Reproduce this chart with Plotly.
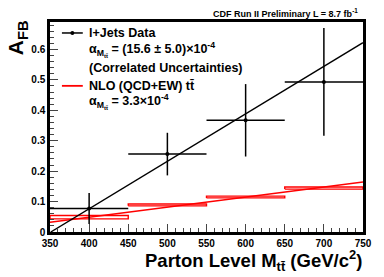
import plotly.graph_objects as go

# Data
bin_lo = [350, 450, 550, 650]
bin_hi = [450, 550, 650, 750]
data_x = [400, 500, 600, 700]
data_y = [0.077, 0.256, 0.367, 0.493]
data_err = [0.051, 0.070, 0.119, 0.177]
data_xerr = [50, 50, 50, 50]

nlo_lo = [0.043, 0.086, 0.112, 0.141]
nlo_hi = [0.054, 0.092, 0.118, 0.148]

fit_slope = 15.6e-4
fit_x0 = 351.0
nlo_slope = 3.3e-4
nlo_at350 = 0.032

xticks = [350, 400, 450, 500, 550, 600, 650, 700, 750]
yticks = [0, 0.1, 0.2, 0.3, 0.4, 0.5, 0.6]
ytick_text = ["0", "0.1", "0.2", "0.3", "0.4", "0.5", "0.6"]

FONT = "Liberation Sans, Arial, sans-serif"
RED = "#ff0000"

fig = go.Figure()

# NLO bands as boxes
for lo, hi, a, b in zip(bin_lo, bin_hi, nlo_lo, nlo_hi):
    fig.add_trace(go.Scatter(x=[lo, hi, hi, lo, lo], y=[a, a, b, b, a], mode="lines",
                             line=dict(color=RED, width=1.4), hoverinfo="skip", showlegend=False))

# NLO line
fig.add_trace(go.Scatter(x=[350, 750], y=[nlo_at350, nlo_at350 + nlo_slope * 400], mode="lines",
                         line=dict(color=RED, width=1.5), showlegend=False))

# Fit line
fig.add_trace(go.Scatter(x=[fit_x0, 750], y=[0, fit_slope * (750 - fit_x0)], mode="lines",
                         line=dict(color="black", width=1.4), showlegend=False))

# Data points
fig.add_trace(go.Scatter(x=data_x, y=data_y, mode="markers",
                         marker=dict(color="black", size=4),
                         error_y=dict(type="data", array=data_err, color="black", thickness=1.5, width=0),
                         error_x=dict(type="data", array=data_xerr, color="black", thickness=1.5, width=0),
                         showlegend=False))

def px(x):
    return (x - 50) / 315.0

def py(y):
    return (232.5 - y) / 210.5

ann = []
def A(text, x, y, size, xanchor="left", angle=0):
    ann.append(dict(text=text, x=px(x), y=py(y), xref="paper", yref="paper", showarrow=False,
                    xanchor=xanchor, yanchor="middle", textangle=angle,
                    font=dict(family=FONT, size=size, color="black", weight="bold")))

A("CDF Run II Preliminary L = 8.7 fb<sup>-1</sup>", 362, 13, 9, "right")
A("l+Jets Data", 87, 33, 12.5)
A("α<sub>M<sub>tt̄</sub></sub> = (15.6 ± 5.0)×10<sup>-4</sup>", 87, 50, 12.5)
A("(Correlated Uncertainties)", 87, 68, 12.5)
A("NLO (QCD+EW) tt̄", 87, 86, 12.5)
A("α<sub>M<sub>tt̄</sub></sub> = 3.3×10<sup>-4</sup>", 87, 102, 12.5)
A("Parton Level M<sub>tt̄</sub> (GeV/c<sup>2</sup>)", 366, 261, 18.5, "right")
A("A<sub>FB</sub>", 17, 38, 21, "center", -90)

shapes = [
    dict(type="line", xref="paper", yref="paper", x0=px(62), x1=px(83), y0=py(33), y1=py(33),
         line=dict(color="black", width=1.5)),
    dict(type="circle", xref="paper", yref="paper", x0=px(70.5), x1=px(74.5), y0=py(31), y1=py(35),
         fillcolor="black", line=dict(color="black", width=0)),
    dict(type="line", xref="paper", yref="paper", x0=px(62), x1=px(83), y0=py(86), y1=py(86),
         line=dict(color=RED, width=1.8)),
]

fig.update_layout(
    width=384, height=277,
    margin=dict(l=50, r=19, t=22, b=44.5),
    paper_bgcolor="white", plot_bgcolor="white",
    annotations=ann, shapes=shapes,
    showlegend=False,
    xaxis=dict(range=[350, 750], tickvals=xticks, ticktext=[str(v) for v in xticks],
               ticks="inside", ticklen=8, tickwidth=1, tickcolor="#444",
               minor=dict(dtick=10, ticks="inside", ticklen=4, tickcolor="#444"),
               showgrid=False, zeroline=False, showline=True, linecolor="black", linewidth=2.5,
               mirror=True, tickfont=dict(family=FONT, size=10, color="black", weight="bold")),
    yaxis=dict(range=[0, 0.69], tickvals=yticks, ticktext=ytick_text,
               ticks="inside", ticklen=8, tickwidth=1, tickcolor="#444",
               minor=dict(dtick=0.02, ticks="inside", ticklen=4, tickcolor="#444"),
               showgrid=False, zeroline=False, showline=True, linecolor="black", linewidth=2.5,
               mirror=True, tickfont=dict(family=FONT, size=10, color="black", weight="bold")),
)

fig.write_html("out.html", config={"displayModeBar": False},
               post_script="document.body.style.margin='0';document.body.style.padding='0';")
